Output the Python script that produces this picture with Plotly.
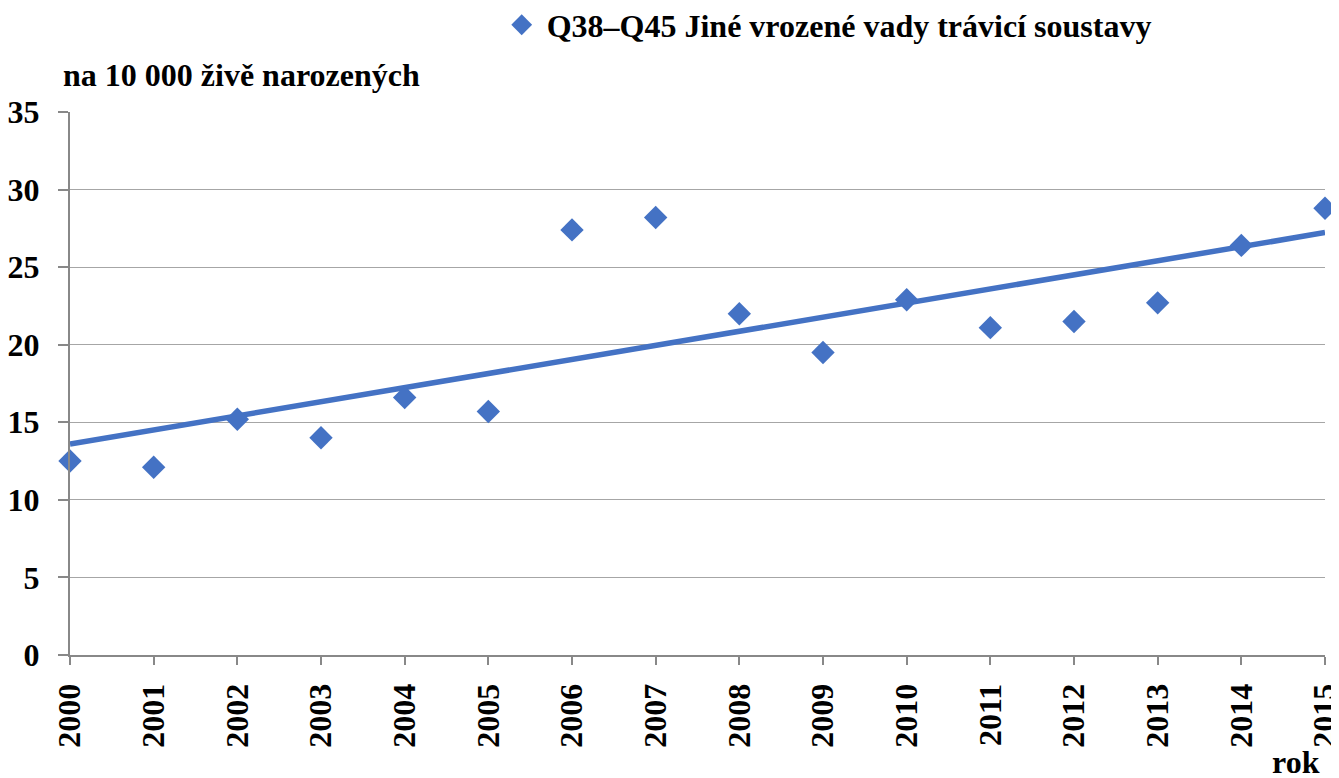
import numpy as np
import plotly.graph_objects as go

years = list(range(2000, 2016))
values = [12.5, 12.1, 15.2, 14.0, 16.6, 15.7, 27.4, 28.2, 22.0, 19.5, 22.9, 21.1, 21.5, 22.7, 26.4, 28.8]
series_name = "Q38–Q45 Jiné vrozené vady trávicí soustavy"
y_title = "na 10 000 živě narozených"
x_title = "rok"

# linear trend from data
coef = np.polyfit(years, values, 1)
trend = np.polyval(coef, years)

FONT = "Liberation Serif, Times New Roman, serif"
FS = 32
BLUE = "#4472C4"

fig = go.Figure()
fig.add_trace(go.Scatter(x=years, y=trend, mode="lines", line=dict(color=BLUE, width=5.5),
                         showlegend=False, hoverinfo="skip", cliponaxis=False))
fig.add_trace(go.Scatter(x=years, y=values, mode="markers", name=series_name,
                         marker=dict(symbol="diamond", size=18, color=BLUE),
                         cliponaxis=False))

# page body has an 8px margin, so the figure is 8px smaller and margins shifted
fig.update_layout(
    width=1331, height=770,
    margin=dict(l=62, r=14, t=104, b=123, autoexpand=False),
    paper_bgcolor="white", plot_bgcolor="white",
    font=dict(family=FONT, size=FS, color="black"),
    legend=dict(orientation="h", x=0.34, xanchor="left",
                yref="container", y=0.978, yanchor="middle",
                font=dict(family=FONT, size=FS, color="black", weight="bold"),
                itemwidth=40, bgcolor="rgba(0,0,0,0)"),
    xaxis=dict(range=[2000, 2015], tickmode="array", tickvals=years,
               ticktext=[f"<b>{y}</b>" for y in years], tickangle=-90,
               ticklabeloverflow="allow", ticklabelstandoff=6,
               showgrid=False, showline=True, linecolor="#888888", linewidth=2,
               ticks="outside", ticklen=8, tickcolor="#888888", tickwidth=1.5,
               zeroline=False, automargin=False, tickfont=dict(family=FONT, size=FS)),
    yaxis=dict(range=[0, 35], tickmode="array", tickvals=list(range(0, 36, 5)),
               ticktext=[f"<b>{v}</b>" for v in range(0, 36, 5)],
               ticklabelstandoff=12,
               showgrid=True, gridcolor="#a6a6a6", gridwidth=1,
               showline=True, linecolor="#888888", linewidth=2,
               ticks="outside", ticklen=10, tickcolor="#888888", tickwidth=1.5,
               zeroline=False, automargin=False, tickfont=dict(family=FONT, size=FS)),
    annotations=[
        dict(text=f"<b>{y_title}</b>", xref="paper", yref="paper", x=-0.007, y=1.068,
             xanchor="left", yanchor="middle", showarrow=False,
             font=dict(family=FONT, size=FS, color="black")),
        dict(text=f"<b>{x_title}</b>", xref="paper", yref="paper", x=0.998, y=-0.197,
             xanchor="right", yanchor="middle", showarrow=False,
             font=dict(family=FONT, size=FS, color="black")),
    ],
)

fig.write_html("out.html")
